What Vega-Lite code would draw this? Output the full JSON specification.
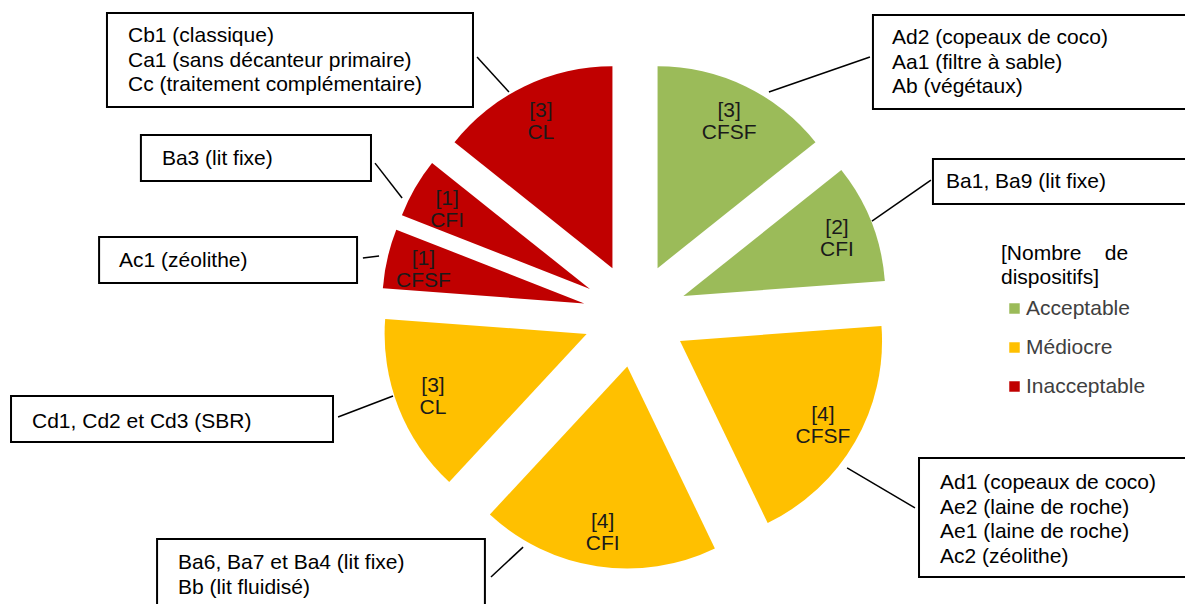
{
  "$schema": "https://vega.github.io/schema/vega-lite/v6.json",
  "width": 1185,
  "height": 604,
  "autosize": {"type": "none"},
  "padding": 0,
  "background": "white",
  "config": {"view": {"stroke": null}},
  "datasets": {
    "slices": [
      {"i": 1, "grp": "Acceptable", "type": "CFSF", "n": 3, "lbl": ["[3]", "CFSF"]},
      {"i": 2, "grp": "Acceptable", "type": "CFI", "n": 2, "lbl": ["[2]", "CFI"]},
      {"i": 3, "grp": "Médiocre", "type": "CFSF", "n": 4, "lbl": ["[4]", "CFSF"]},
      {"i": 4, "grp": "Médiocre", "type": "CFI", "n": 4, "lbl": ["[4]", "CFI"]},
      {"i": 5, "grp": "Médiocre", "type": "CL", "n": 3, "lbl": ["[3]", "CL"]},
      {"i": 6, "grp": "Inacceptable", "type": "CFSF", "n": 1, "lbl": ["[1]", "CFSF"]},
      {"i": 7, "grp": "Inacceptable", "type": "CFI", "n": 1, "lbl": ["[1]", "CFI"]},
      {"i": 8, "grp": "Inacceptable", "type": "CL", "n": 3, "lbl": ["[3]", "CL"]}
    ],
    "notes": [
      {"bx1": -2.614, "bx2": -0.802, "by1": 1.495, "by2": 1.030, "tx": -2.510, "ty": 1.381, "lx1": -0.782, "ly1": 1.277, "lx2": -0.624, "ly2": 1.104, "lines": ["Cb1 (classique)", "Ca1 (sans décanteur primaire)", "Cc (traitement complémentaire)"]},
      {"bx1": -2.446, "bx2": -1.307, "by1": 0.891, "by2": 0.663, "tx": -2.342, "ty": 0.772, "lx1": -1.287, "ly1": 0.752, "lx2": -1.153, "ly2": 0.579, "lines": ["Ba3 (lit fixe)"]},
      {"bx1": -2.653, "bx2": -1.376, "by1": 0.386, "by2": 0.158, "tx": -2.554, "ty": 0.267, "lx1": -1.347, "ly1": 0.282, "lx2": -1.267, "ly2": 0.292, "lines": ["Ac1 (zéolithe)"]},
      {"bx1": -3.089, "bx2": -1.495, "by1": -0.401, "by2": -0.629, "tx": -2.985, "ty": -0.530, "lx1": -1.470, "ly1": -0.505, "lx2": -1.198, "ly2": -0.401, "lines": ["Cd1, Cd2 et Cd3 (SBR)"]},
      {"bx1": -2.366, "bx2": -0.743, "by1": -1.109, "by2": -1.560, "tx": -2.262, "ty": -1.228, "lx1": -0.713, "ly1": -1.297, "lx2": -0.554, "ly2": -1.149, "lines": ["Ba6, Ba7 et Ba4 (lit fixe)", "Bb (lit fluidisé)"]},
      {"bx1": 1.406, "bx2": 2.85, "by1": -0.708, "by2": -1.297, "tx": 1.510, "ty": -0.832, "lx1": 1.050, "ly1": -0.757, "lx2": 1.386, "ly2": -0.955, "lines": ["Ad1 (copeaux de coco)", "Ae2 (laine de roche)", "Ae1 (laine de roche)", "Ac2 (zéolithe)"]},
      {"bx1": 1.178, "bx2": 2.85, "by1": 1.485, "by2": 1.020, "tx": 1.272, "ty": 1.371, "lx1": 0.663, "ly1": 1.104, "lx2": 1.163, "ly2": 1.277, "lines": ["Ad2 (copeaux de coco)", "Aa1 (filtre à sable)", "Ab (végétaux)"]},
      {"bx1": 1.475, "bx2": 2.85, "by1": 0.772, "by2": 0.550, "tx": 1.540, "ty": 0.658, "lx1": 1.173, "ly1": 0.465, "lx2": 1.465, "ly2": 0.668, "lines": ["Ba1, Ba9 (lit fixe)"]}
    ]
  },
  "layer": [
    {
      "data": {"name": "slices"},
      "transform": [
        {"window": [{"op": "sum", "field": "n", "as": "end"}], "sort": [{"field": "i"}], "frame": [null, 0]},
        {"joinaggregate": [{"op": "sum", "field": "n", "as": "total"}]},
        {"calculate": "(datum.end - datum.n) / datum.total * 2 * PI", "as": "a0"},
        {"calculate": "datum.end / datum.total * 2 * PI", "as": "a1"},
        {"calculate": "(datum.a0 + datum.a1) / 2", "as": "mid"},
        {"calculate": "0.2574 * sin(datum.mid)", "as": "ex"},
        {"calculate": "0.2574 * cos(datum.mid)", "as": "ey"}
      ],
      "layer": [
        {
          "mark": {"type": "arc", "radius": 202, "stroke": null},
          "encoding": {
            "x": {"field": "ex", "type": "quantitative", "scale": {"domain": [-3.14356, 2.72277], "nice": false, "zero": false}, "axis": null},
            "y": {"field": "ey", "type": "quantitative", "scale": {"domain": [-1.43069, 1.55941], "nice": false, "zero": false}, "axis": null},
            "theta": {"field": "a0", "type": "quantitative", "scale": null},
            "theta2": {"field": "a1"},
            "color": {
              "field": "grp",
              "type": "nominal",
              "scale": {"domain": ["Acceptable", "Médiocre", "Inacceptable"], "range": ["#9BBB59", "#FFC000", "#C00000"]},
              "legend": {
                "orient": "none",
                "legendX": 1001,
                "legendY": 243,
                "padding": 0,
                "title": ["[Nombre\u00a0\u00a0\u00a0\u00a0de", "dispositifs]"],
                "titleFont": "Liberation Sans",
                "titleFontSize": 21,
                "titleFontWeight": "normal",
                "titleColor": "#000000",
                "titleLineHeight": 24,
                "titlePadding": 10,
                "labelFont": "Liberation Sans",
                "labelFontSize": 21,
                "labelColor": "#404040",
                "labelOffset": 1,
                "symbolType": "square",
                "symbolSize": 110,
                "symbolStrokeWidth": 0,
                "symbolOffset": 3,
                "rowPadding": 17
              }
            }
          }
        },
        {
          "mark": {"type": "text", "radius": 165, "align": "center", "baseline": "middle", "dy": -8, "font": "Liberation Sans", "fontSize": 21, "lineHeight": 22, "color": "#1a1a1a"},
          "encoding": {
            "x": {"field": "ex", "type": "quantitative", "scale": {"domain": [-3.14356, 2.72277], "nice": false, "zero": false}, "axis": null},
            "y": {"field": "ey", "type": "quantitative", "scale": {"domain": [-1.43069, 1.55941], "nice": false, "zero": false}, "axis": null},
            "theta": {"field": "mid", "type": "quantitative", "scale": null},
            "text": {"field": "lbl"}
          }
        }
      ]
    },
    {
      "data": {"name": "notes"},
      "layer": [
        {
          "mark": {"type": "rule", "color": "#000000", "strokeWidth": 1.5},
          "encoding": {
            "x": {"field": "lx1", "type": "quantitative"},
            "y": {"field": "ly1", "type": "quantitative"},
            "x2": {"field": "lx2"},
            "y2": {"field": "ly2"}
          }
        },
        {
          "mark": {"type": "rect", "fill": "#ffffff", "stroke": "#000000", "strokeWidth": 2},
          "encoding": {
            "x": {"field": "bx1", "type": "quantitative"},
            "x2": {"field": "bx2"},
            "y": {"field": "by1", "type": "quantitative"},
            "y2": {"field": "by2"}
          }
        },
        {
          "mark": {"type": "text", "align": "left", "baseline": "middle", "font": "Liberation Sans", "fontSize": 21, "lineHeight": 24.5, "color": "#000000"},
          "encoding": {
            "x": {"field": "tx", "type": "quantitative"},
            "y": {"field": "ty", "type": "quantitative"},
            "text": {"field": "lines"}
          }
        }
      ]
    }
  ]
}
